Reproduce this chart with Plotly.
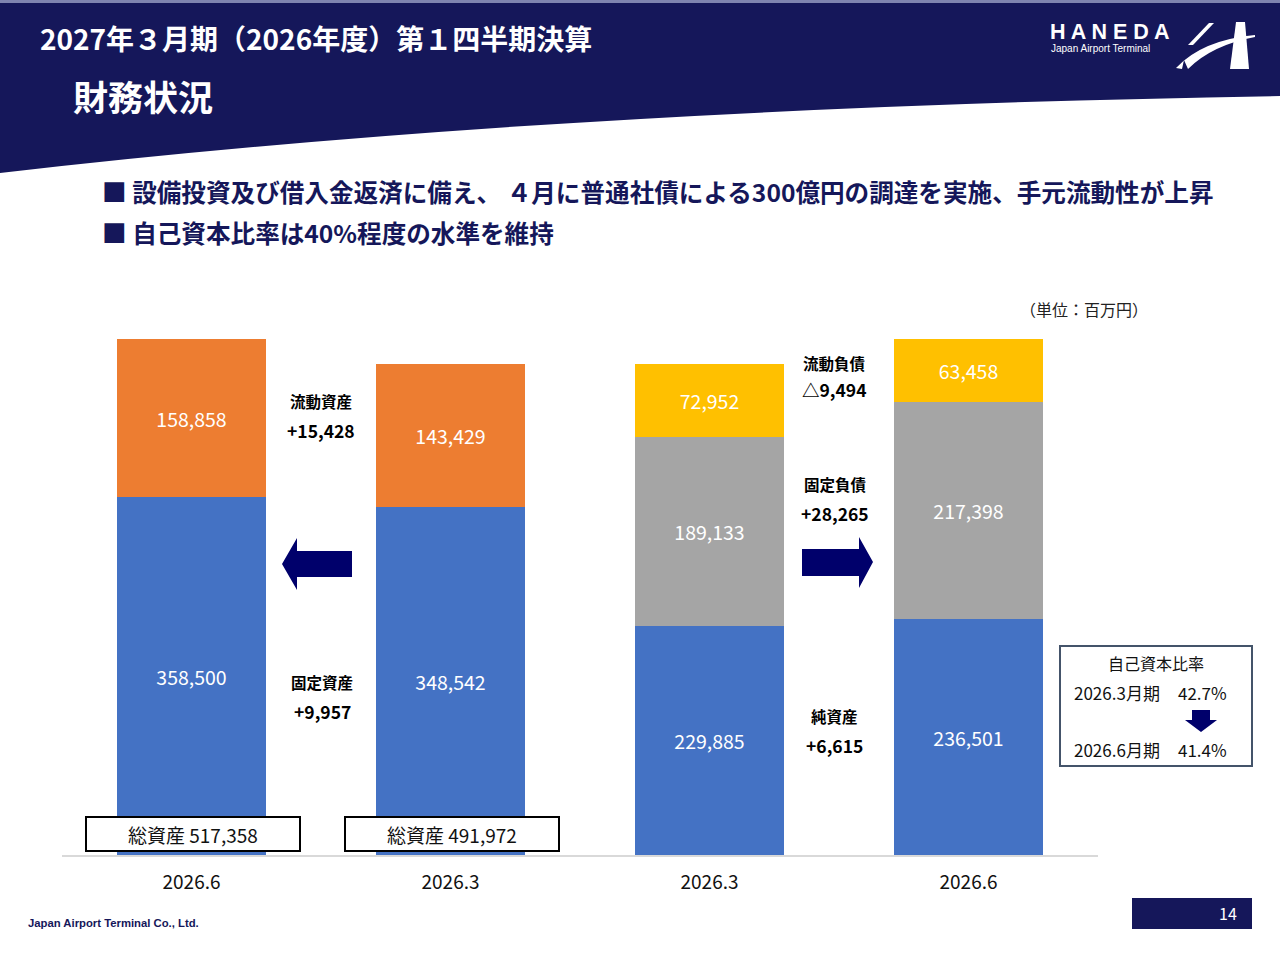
import plotly.graph_objects as go

# ---------------- data ----------------
x_pos = [0, 1, 2, 3]
tick_labels = ["2026.6", "2026.3", "2026.3", "2026.6"]

fixed_assets = [358500, 348542, None, None]
current_assets = [158858, 143429, None, None]
net_assets = [None, None, 229885, 236501]
fixed_liab = [None, None, 189133, 217398]
current_liab = [None, None, 72952, 63458]

total_labels = ["総資産 517,358", "総資産 491,972"]

change_names = ["流動資産", "固定資産", "流動負債", "固定負債", "純資産"]
change_values = ["+15,428", "+9,957", "△9,494", "+28,265", "+6,615"]

ratio_periods = ["2026.3月期", "2026.6月期"]
ratio_values = ["42.7%", "41.4%"]

# ---------------- layout constants ----------------
W, H = 1280, 960
L, R = 62, 1098            # plot area x (px)
T, B = 330, 855            # plot area y (px)
Y_MAX = (B - T) / 516 * 517358
FONT = "Noto Sans CJK JP"
NAVY = "#15175A"
ARROW = "#00006B"


def xp(x):
    return (x - L) / (R - L)


def yp(y):
    return (B - y) / (B - T)


def fmt(v):
    return "" if v is None else f"{v:,}"


fig = go.Figure()


def add_bar(vals, color, name):
    fig.add_trace(go.Bar(
        x=x_pos, y=vals, name=name, marker=dict(color=color, line=dict(width=0)),
        width=0.572, text=[fmt(v) for v in vals], textposition="inside",
        insidetextanchor="middle", textangle=0,
        textfont=dict(color="white", size=19.5, family=FONT),
        hoverinfo="skip", showlegend=False,
    ))


add_bar(fixed_assets, "#4472C4", "固定資産")
add_bar(current_assets, "#ED7D31", "流動資産")
add_bar(net_assets, "#4472C4", "純資産")
add_bar(fixed_liab, "#A5A5A5", "固定負債")
add_bar(current_liab, "#FFC000", "流動負債")

shapes = []
ann = []

# header band with curved bottom edge
shapes.append(dict(
    type="path", xref="paper", yref="paper", layer="below",
    path=f"M {xp(0)},{yp(0)} L {xp(1280)},{yp(0)} L {xp(1280)},{yp(96)} "
         f"Q {xp(560)},{yp(108)} {xp(0)},{yp(173)} Z",
    fillcolor=NAVY, line=dict(width=0)))
shapes.append(dict(type="rect", xref="paper", yref="paper", layer="below",
                   x0=xp(0), x1=xp(1280), y0=yp(0), y1=yp(3),
                   fillcolor="#7F84B0", line=dict(width=0)))

ann.append(dict(text="<b>2027年３月期（2026年度）第１四半期決算</b>", x=xp(38), y=yp(38),
                xanchor="left", yanchor="middle", font=dict(size=28, color="white", family=FONT)))
ann.append(dict(text="<b>財務状況</b>", x=xp(71), y=yp(95), xanchor="left", yanchor="middle",
                font=dict(size=35, color="white", family=FONT)))

# HANEDA logo
ann.append(dict(text="<b>H A N E D A</b>", x=xp(1048), y=yp(32), xanchor="left", yanchor="middle",
                font=dict(size=21.5, color="white", family="Liberation Sans")))
ann.append(dict(text="Japan Airport Terminal", x=xp(1049), y=yp(48), xanchor="left", yanchor="middle",
                font=dict(size=10, color="white", family="Liberation Sans")))
shapes.append(dict(type="path", xref="paper", yref="paper",
                   path=f"M {xp(1236)},{yp(22)} L {xp(1245)},{yp(22)} L {xp(1249)},{yp(69)} "
                        f"L {xp(1230)},{yp(69)} Z",
                   fillcolor="white", line=dict(width=0)))
shapes.append(dict(type="path", xref="paper", yref="paper",
                   path=f"M {xp(1209)},{yp(23)} L {xp(1214)},{yp(23)} L {xp(1193)},{yp(45)} "
                        f"L {xp(1188)},{yp(45)} Z",
                   fillcolor="white", line=dict(width=0)))
shapes.append(dict(type="path", xref="paper", yref="paper",
                   path=f"M {xp(1176)},{yp(68)} Q {xp(1202)},{yp(40)} {xp(1255)},{yp(35)} "
                        f"L {xp(1255)},{yp(37)} Q {xp(1212)},{yp(45)} {xp(1188)},{yp(69)} "
                        f"L {xp(1184)},{yp(60)} L {xp(1182)},{yp(69)} Z",
                   fillcolor="white", line=dict(width=0)))

# bullets
ann.append(dict(text="<b>■ 設備投資及び借入金返済に備え、 ４月に普通社債による300億円の調達を実施、手元流動性が上昇</b>",
                x=xp(100), y=yp(191), xanchor="left", yanchor="middle",
                font=dict(size=24.6, color=NAVY, family=FONT)))
ann.append(dict(text="<b>■ 自己資本比率は40%程度の水準を維持</b>",
                x=xp(100), y=yp(232), xanchor="left", yanchor="middle",
                font=dict(size=24.6, color=NAVY, family=FONT)))

ann.append(dict(text="（単位：百万円）", x=xp(1150), y=yp(309), xanchor="right", yanchor="middle",
                font=dict(size=16, color="#222222", family=FONT)))

# total asset boxes
for cx, label in zip([192, 451], total_labels):
    shapes.append(dict(type="rect", xref="paper", yref="paper",
                       x0=xp(cx - 106), x1=xp(cx + 108), y0=yp(851), y1=yp(817),
                       fillcolor="white", line=dict(color="black", width=2)))
    ann.append(dict(text=label, x=xp(cx + 1), y=yp(834), xanchor="center", yanchor="middle",
                    font=dict(size=19, color="#111111", family=FONT)))

# change annotations
change_pos = [(321, 401, 430), (322, 682, 711), (834, 363, 389), (835, 484, 513), (834, 716, 745)]
for (cx, y1, y2), nm, val in zip(change_pos, change_names, change_values):
    ann.append(dict(text=f"<b>{nm}</b>", x=xp(cx), y=yp(y1), xanchor="center", yanchor="middle",
                    font=dict(size=15.5, color="black", family=FONT)))
    ann.append(dict(text=f"<b>{val}</b>", x=xp(cx), y=yp(y2), xanchor="center", yanchor="middle",
                    font=dict(size=17.5, color="black", family=FONT)))

# arrows
shapes.append(dict(type="path", xref="paper", yref="paper",
                   path=f"M {xp(282)},{yp(564)} L {xp(297)},{yp(538)} L {xp(297)},{yp(551)} "
                        f"L {xp(352)},{yp(551)} L {xp(352)},{yp(577)} L {xp(297)},{yp(577)} "
                        f"L {xp(297)},{yp(590)} Z",
                   fillcolor=ARROW, line=dict(width=0)))
shapes.append(dict(type="path", xref="paper", yref="paper",
                   path=f"M {xp(873)},{yp(562)} L {xp(859)},{yp(537)} L {xp(859)},{yp(549)} "
                        f"L {xp(802)},{yp(549)} L {xp(802)},{yp(576)} L {xp(859)},{yp(576)} "
                        f"L {xp(859)},{yp(588)} Z",
                   fillcolor=ARROW, line=dict(width=0)))

# equity ratio box
shapes.append(dict(type="rect", xref="paper", yref="paper",
                   x0=xp(1060), x1=xp(1252), y0=yp(766), y1=yp(646),
                   fillcolor="white", line=dict(color="#44546A", width=2)))
ann.append(dict(text="自己資本比率", x=xp(1156), y=yp(663), xanchor="center", yanchor="middle",
                font=dict(size=16, color="#111111", family=FONT)))
for yy, per, val in zip([692, 749], ratio_periods, ratio_values):
    ann.append(dict(text=per, x=xp(1072), y=yp(yy), xanchor="left", yanchor="middle",
                    font=dict(size=17, color="#111111", family=FONT)))
    ann.append(dict(text=val, x=xp(1229), y=yp(yy), xanchor="right", yanchor="middle",
                    font=dict(size=17, color="#111111", family=FONT)))
shapes.append(dict(type="path", xref="paper", yref="paper",
                   path=f"M {xp(1192)},{yp(710)} L {xp(1210)},{yp(710)} L {xp(1210)},{yp(720)} "
                        f"L {xp(1217)},{yp(720)} L {xp(1201)},{yp(732)} L {xp(1185)},{yp(720)} "
                        f"L {xp(1192)},{yp(720)} Z",
                   fillcolor=ARROW, line=dict(width=0)))

# footer
ann.append(dict(text="<b>Japan Airport Terminal Co., Ltd.</b>", x=xp(26), y=yp(923), xanchor="left",
                yanchor="middle", font=dict(size=11.3, color=NAVY, family="Liberation Sans")))
shapes.append(dict(type="rect", xref="paper", yref="paper",
                   x0=xp(1132), x1=xp(1252), y0=yp(929), y1=yp(898),
                   fillcolor=NAVY, line=dict(width=0)))
ann.append(dict(text="14", x=xp(1239), y=yp(913), xanchor="right", yanchor="middle",
                font=dict(size=16, color="white", family=FONT)))

for a in ann:
    a.update(xref="paper", yref="paper", showarrow=False)

fig.update_layout(
    width=W, height=H, barmode="stack",
    margin=dict(l=L, r=W - R, t=T, b=H - B, pad=0),
    paper_bgcolor="white", plot_bgcolor="white",
    shapes=shapes, annotations=ann,
    font=dict(family=FONT),
    xaxis=dict(range=[-0.5, 3.5], tickmode="array", tickvals=x_pos, ticktext=tick_labels,
               showgrid=False, zeroline=False, showline=True, linecolor="#D9D9D9", linewidth=2,
               ticks="", ticklabelstandoff=9, tickfont=dict(size=19, color="#111111", family=FONT),
               fixedrange=True),
    yaxis=dict(range=[0, Y_MAX], visible=False, showgrid=False, zeroline=False, fixedrange=True),
    uniformtext=dict(mode=False),
)

fig.write_html("out.html", config={"displayModeBar": False},
               post_script="document.body.style.margin='0';document.body.style.overflow='hidden';")
